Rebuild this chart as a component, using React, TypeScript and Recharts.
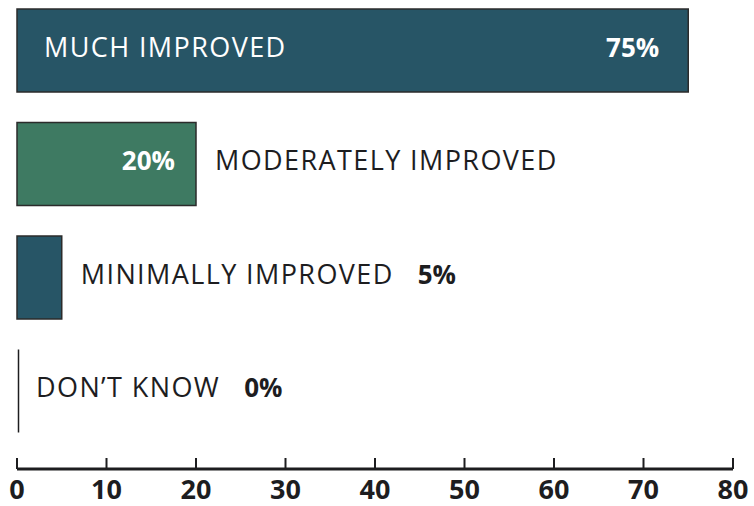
import React from 'react';
import { BarChart, Bar, XAxis, YAxis, LabelList, Cell } from 'recharts';

const categories = ['MUCH IMPROVED', 'MODERATELY IMPROVED', 'MINIMALLY IMPROVED', 'DON\u2019T KNOW'];
const values = [75, 20, 5, 0];
const valueLabels = ['75%', '20%', '5%', '0%'];
const xTicks = [0, 10, 20, 30, 40, 50, 60, 70, 80];

const barColors = ['#275566', '#3e7a62', '#275566', '#275566'];

const data = categories.map((c, i) => ({ category: c, value: values[i], label: valueLabels[i] }));

const FONT = '"Open Sans", sans-serif';
const DARK = '#1d1d1f';
const CAT_SIZE = 27;
const CAT_SPACING = 1.4;

function BarShape(props: any) {
  const { x, y, width, height, fill } = props;
  if (!width || width <= 0) {
    return <line x1={x + 1.5} x2={x + 1.5} y1={y} y2={y + height} stroke={DARK} strokeWidth={1.5} />;
  }
  return <rect x={x} y={y} width={width} height={height} fill={fill} stroke="#2b2b2b" strokeWidth={1.5} />;
}

function BarLabels(props: any) {
  const { x, y, width, height, index } = props;
  const cat = categories[index];
  const val = valueLabels[index];
  const by = y + height / 2 + 6;
  const right = x + width;
  if (width > 400) {
    return (
      <g>
        <text x={x + 27} y={by} fill="#ffffff" fontFamily={FONT} fontSize={CAT_SIZE} letterSpacing={CAT_SPACING}>{cat}</text>
        <text x={right - 29} y={by} fill="#ffffff" fontFamily={FONT} fontSize={26} fontWeight={700} textAnchor="end">{val}</text>
      </g>
    );
  }
  if (width > 100) {
    return (
      <g>
        <text x={right - 21} y={by} fill="#ffffff" fontFamily={FONT} fontSize={26} fontWeight={700} textAnchor="end">{val}</text>
        <text x={right + 19} y={by} fill={DARK} fontFamily={FONT} fontSize={CAT_SIZE} letterSpacing={CAT_SPACING}>{cat}</text>
      </g>
    );
  }
  return (
    <text x={right + 19} y={by} fill={DARK} fontFamily={FONT} fontSize={CAT_SIZE}>
      <tspan letterSpacing={CAT_SPACING}>{cat}</tspan>
      <tspan dx={24} fontSize={26} fontWeight={700} letterSpacing={0}>{val}</tspan>
    </text>
  );
}

export default function App() {
  return (
    <div style={{ position: 'absolute', left: 0, top: 0, background: '#ffffff' }}>
      <BarChart
        width={754}
        height={506}
        data={data}
        layout="vertical"
        margin={{ top: 0, right: 21, bottom: 0, left: 17 }}
        barSize={83}
      >
        <XAxis
          type="number"
          dataKey="value"
          domain={[0, 80]}
          ticks={xTicks}
          interval={0}
          height={37}
          tickSize={-11}
          tickMargin={22}
          axisLine={{ stroke: DARK, strokeWidth: 3 }}
          tickLine={{ stroke: DARK, strokeWidth: 2 }}
          tick={{ fill: DARK, fontFamily: FONT, fontSize: 27, fontWeight: 700 }}
        />
        <YAxis
          type="category"
          dataKey="category"
          width={0}
          tick={false}
          tickLine={false}
          padding={{ top: -6, bottom: 21 }}
          axisLine={{ stroke: DARK, strokeWidth: 2.5 }}
        />
        <Bar dataKey="value" isAnimationActive={false} shape={BarShape}>
          {data.map((d, i) => (
            <Cell key={d.category} fill={barColors[i]} />
          ))}
          <LabelList dataKey="label" content={BarLabels} />
        </Bar>
      </BarChart>
    </div>
  );
}
